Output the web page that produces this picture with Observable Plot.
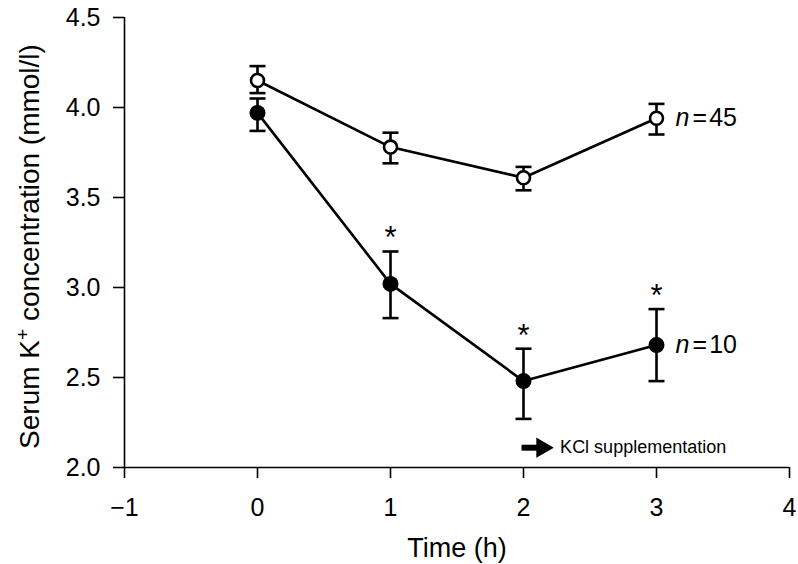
<!DOCTYPE html>
<html>
<head>
<meta charset="utf-8">
<script src="https://cdn.jsdelivr.net/npm/d3@7"></script>
<script src="https://cdn.jsdelivr.net/npm/@observablehq/plot@0.6"></script>
<style>
  html, body { margin: 0; padding: 0; background: #fff; }
  svg { font-family: "Liberation Sans", Arial, Helvetica, sans-serif; }
</style>
</head>
<body>
<div id="chart"></div>
<script>
// ---- data ----
const times = [0, 1, 2, 3];
const normalMean = [4.15, 3.78, 3.61, 3.94];
const normalLo   = [4.08, 3.69, 3.54, 3.85];
const normalHi   = [4.23, 3.86, 3.67, 4.02];
const hypoMean = [3.97, 3.02, 2.48, 2.68];
const hypoLo   = [3.87, 2.83, 2.27, 2.48];
const hypoHi   = [4.05, 3.20, 2.66, 2.88];
const hypoSignificant = [false, true, true, true];
const seriesN = ["45", "10"];
const xTicks = [-1, 0, 1, 2, 3, 4];
const yTicks = [2.0, 2.5, 3.0, 3.5, 4.0, 4.5];
const kclStart = [1.985];
const kclEnd = [2.14];
const kclY = [2.11];
const kclText = ["KCl supplementation"];

const normal = times.map((t, i) => ({t, m: normalMean[i], lo: normalLo[i], hi: normalHi[i]}));
const hypo = times.map((t, i) => ({t, m: hypoMean[i], lo: hypoLo[i], hi: hypoHi[i], sig: hypoSignificant[i]}));

const capSymbol = {
  draw(context, size) {
    const r = Math.sqrt(size / Math.PI);
    context.moveTo(-r, 0);
    context.lineTo(r, 0);
  }
};

const fmtX = d => d < 0 ? "\u2212" + Math.abs(d) : String(d);
const sw = 2.6;

const chart = Plot.plot({
  width: 798,
  height: 564,
  marginLeft: 124,
  marginRight: 9,
  marginTop: 17,
  marginBottom: 97,
  style: {fontFamily: '"Liberation Sans", Arial, sans-serif', color: "#000", background: "#fff"},
  x: {domain: [-1, 4]},
  y: {domain: [2, 4.5]},
  marks: [
    Plot.axisX({ticks: xTicks, tickFormat: fmtX, tickSize: 11, tickPadding: 20, fontSize: 25, label: null, strokeWidth: 1.6}),
    Plot.axisY({ticks: yTicks, tickFormat: d => d.toFixed(1), tickSize: 11, tickPadding: 13, fontSize: 25, label: null, strokeWidth: 1.6}),
    Plot.ruleY([2], {stroke: "#000", strokeWidth: 1.6}),
    Plot.ruleX([-1], {y1: 2, y2: 4.5, stroke: "#000", strokeWidth: 1.6}),
    // lines
    Plot.line(normal, {x: "t", y: "m", stroke: "#000", strokeWidth: sw}),
    Plot.line(hypo, {x: "t", y: "m", stroke: "#000", strokeWidth: sw}),
    // error bars
    Plot.ruleX(normal, {x: "t", y1: "lo", y2: "hi", stroke: "#000", strokeWidth: sw}),
    Plot.ruleX(hypo, {x: "t", y1: "lo", y2: "hi", stroke: "#000", strokeWidth: sw}),
    Plot.dot(normal, {x: "t", y: "hi", symbol: capSymbol, r: 8, stroke: "#000", strokeWidth: sw, fill: "none"}),
    Plot.dot(normal, {x: "t", y: "lo", symbol: capSymbol, r: 8, stroke: "#000", strokeWidth: sw, fill: "none"}),
    Plot.dot(hypo, {x: "t", y: "hi", symbol: capSymbol, r: 8, stroke: "#000", strokeWidth: sw, fill: "none"}),
    Plot.dot(hypo, {x: "t", y: "lo", symbol: capSymbol, r: 8, stroke: "#000", strokeWidth: sw, fill: "none"}),
    // points
    Plot.dot(normal, {x: "t", y: "m", r: 6.5, fill: "#fff", stroke: "#000", strokeWidth: sw}),
    Plot.dot(hypo, {x: "t", y: "m", r: 8, fill: "#000", stroke: "none"}),
    // significance stars
    Plot.text(hypo.filter(d => d.sig), {x: "t", y: "hi", text: () => "*", fontSize: 31, dy: -13, lineAnchor: "middle", fill: "#000"}),
    // n labels
    Plot.text([normal[3], hypo[3]], {x: "t", y: "m", text: () => "n", fontStyle: "italic", fontSize: 25, dx: 19, textAnchor: "start", lineAnchor: "middle", fill: "#000"}),
    Plot.text([normal[3], hypo[3]], {x: "t", y: "m", text: (d, i) => "=\u200A" + seriesN[i], fontSize: 25, dx: 36, textAnchor: "start", lineAnchor: "middle", fill: "#000"}),
    // KCl arrow
    Plot.link(kclStart.map((x1, i) => ({x1, x2: kclEnd[i], y: kclY[i]})), {x1: "x1", x2: "x2", y1: "y", y2: "y", stroke: "#000", strokeWidth: 6}),
    Plot.dot(kclEnd.map((x, i) => ({x, y: kclY[i]})), {x: "x", y: "y", symbol: "triangle", rotate: 90, r: 7.5, fill: "#000", stroke: "none"}),
    Plot.text(kclText.map((s, i) => ({s, x: kclEnd[i], y: kclY[i]})), {x: "x", y: "y", text: "s", dx: 18, fontSize: 18, textAnchor: "start", lineAnchor: "middle", fill: "#000"}),
    // axis titles
    Plot.text(["Time (h)"], {frameAnchor: "bottom", dy: 81, fontSize: 27, lineAnchor: "middle", fill: "#000"}),
    Plot.text(["Serum K+ concentration (mmol/l)"], {frameAnchor: "left", dx: -94, dy: 4, rotate: -90, fontSize: 28, textAnchor: "middle", lineAnchor: "middle", fill: "#000", className: "ytitle"})
  ]
});

// superscript plus on K
d3.select(chart).selectAll(".ytitle text").each(function() {
  const t = d3.select(this);
  t.text(null);
  t.append("tspan").text("Serum K");
  t.append("tspan").attr("baseline-shift", "super").attr("font-size", "19").text("+");
  t.append("tspan").text(" concentration (mmol/l)");
});

document.getElementById("chart").appendChild(chart);
</script>
</body>
</html>
